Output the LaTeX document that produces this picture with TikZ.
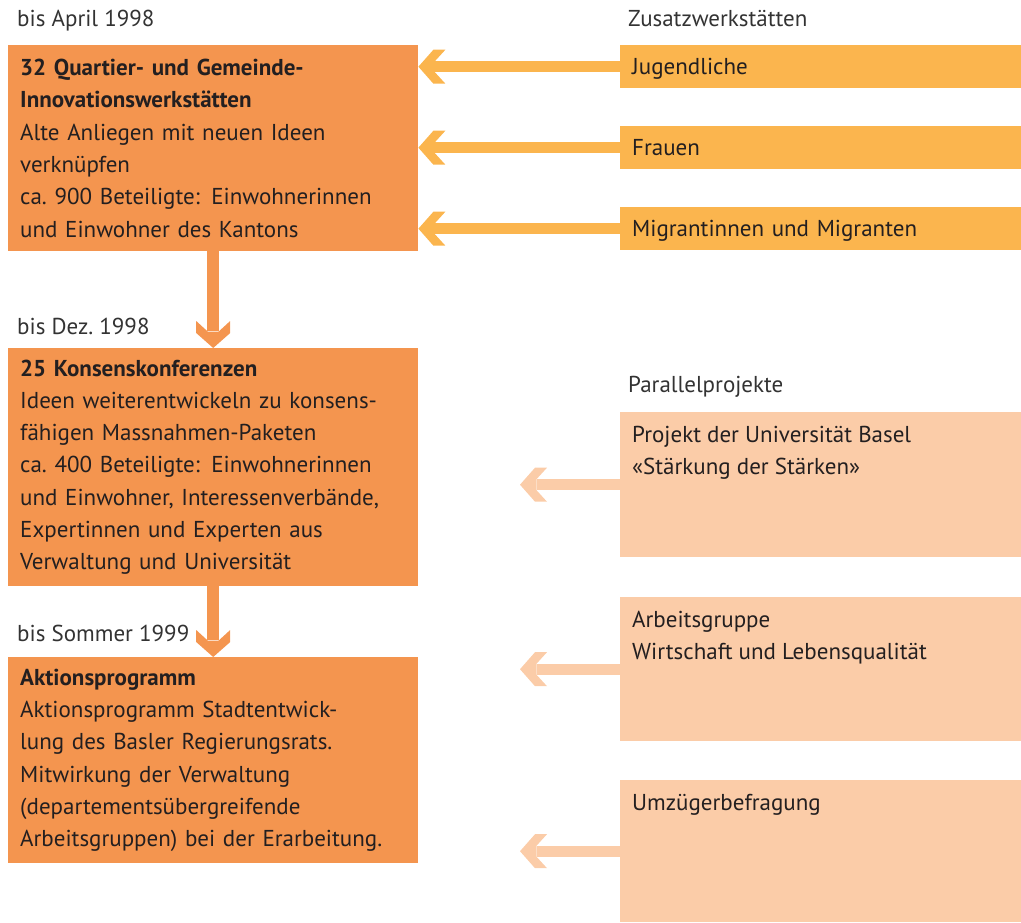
\documentclass[tikz,border=0pt]{standalone}
\usepackage{fontspec}
\setmainfont{PT Sans}
\usetikzlibrary{calc}
\definecolor{dorange}{HTML}{F4954F}
\definecolor{yel}{HTML}{FBB54E}
\definecolor{peach}{HTML}{FBCCA8}
\definecolor{txt}{HTML}{231F20}
\definecolor{lbl}{HTML}{333333}
\pgfdeclarearrow{
  name=Chev,
  setup code={
    \pgfarrowssettipend{0pt}
    \pgfarrowssetbackend{-27pt}
    \pgfarrowssetlineend{-17pt}
    \pgfarrowsupperhullpoint{0pt}{0pt}
    \pgfarrowsupperhullpoint{-27pt}{17pt}
  },
  drawing code={
    \pgfpathmoveto{\pgfpoint{0pt}{0pt}}
    \pgfpathlineto{\pgfpoint{-15pt}{17pt}}
    \pgfpathlineto{\pgfpoint{-27pt}{17pt}}
    \pgfpathlineto{\pgfpoint{-16.5pt}{5.5pt}}
    \pgfpathlineto{\pgfpoint{-16.5pt}{-5.5pt}}
    \pgfpathlineto{\pgfpoint{-27pt}{-17pt}}
    \pgfpathlineto{\pgfpoint{-15pt}{-17pt}}
    \pgfpathclose
    \pgfusepathqfill
  }
}
\tikzset{
  bodyfont/.style={font=\fontsize{23}{32.3}\selectfont},
  lbox/.style={fill=dorange, anchor=north west, minimum width=410pt, text width=386pt,
    inner xsep=12pt, inner ysep=0pt, align=left, text=txt, bodyfont},
  ybox/.style={fill=yel, anchor=north west, minimum width=401pt, minimum height=43pt,
    text width=377pt, inner xsep=12pt, inner ysep=0pt, align=left, text=txt,
    text height=18pt, text depth=3pt, bodyfont},
  pbox/.style={fill=peach, anchor=north west, minimum width=401pt, inner sep=0pt},
  ptext/.style={anchor=north west, inner sep=0pt, align=left, text=txt, bodyfont},
  lab/.style={anchor=base west, inner sep=0pt, text=lbl, bodyfont},
  darrow/.style={color=dorange, line width=12pt, -Chev},
  yarrow/.style={color=yel, line width=11pt, -Chev},
  parrow/.style={color=peach, line width=11pt, -Chev},
}
\begin{document}
\begin{tikzpicture}[x=1pt,y=-1pt]
\useasboundingbox (0,0) rectangle (1021,922);
% labels
\node[lab] (l1) at (17,26) {bis April 1998};
\node[lab] (l2) at (17,334) {bis Dez.\ 1998};
\node[lab] (l3) at (17,641) {bis Sommer 1999};
\node[lab] (l4) at (628,26) {Zusatzwerkstätten};
\node[lab] (l5) at (628,392) {Parallelprojekte};
% left boxes
\node[lbox, minimum height=206pt] (b1) at (8,45) {\textbf{32 Quartier- und Gemeinde-}\\\textbf{Innovationswerkstätten}\\Alte Anliegen mit neuen Ideen\\verknüpfen\\ca.\ 900 Beteiligte: Einwohnerinnen\\und Einwohner des Kantons};
\node[lbox, minimum height=238pt] (b2) at (8,348) {\textbf{25 Konsenskonferenzen}\\Ideen weiterentwickeln zu konsens-\\fähigen Massnahmen-Paketen\\ca.\ 400 Beteiligte: Einwohnerinnen\\und Einwohner, Interessenverbände,\\Expertinnen und Experten aus\\Verwaltung und Universität};
\node[lbox, minimum height=206pt] (b3) at (8,657) {\textbf{Aktionsprogramm}\\Aktionsprogramm Stadtentwick-\\lung des Basler Regierungsrats.\\Mitwirkung der Verwaltung\\(departementsübergreifende\\Arbeitsgruppen) bei der Erarbeitung.};
% yellow boxes
\node[ybox] (y1) at (620,45) {Jugendliche};
\node[ybox] (y2) at (620,126) {Frauen};
\node[ybox] (y3) at (620,207) {Migrantinnen und Migranten};
% peach boxes
\node[pbox, minimum height=145pt] (p1) at (620,412) {};
\node[pbox, minimum height=144pt] (p2) at (620,597) {};
\node[pbox, minimum height=142pt] (p3) at (620,780) {};
\node[ptext] (p1t) at ($(p1.north west)+(12,7.4)$) {\strut Projekt der Universität Basel\\«Stärkung der Stärken»};
\node[ptext] (p2t) at ($(p2.north west)+(12,7.4)$) {\strut Arbeitsgruppe\\Wirtschaft und Lebensqualität};
\node[ptext] (p3t) at ($(p3.north west)+(12,7.4)$) {\strut Umzügerbefragung};
% arrows
\draw[darrow] (b1.south) -- (b2.north);
\draw[darrow] (b2.south) -- (b3.north);
\draw[yarrow] (y1.west) -- (y1.west -| b1.east);
\draw[yarrow] (y2.west) -- (y2.west -| b1.east);
\draw[yarrow] (y3.west) -- (y3.west -| b1.east);
\coordinate (e1) at ($(p1.west)+(-100,0)$);
\coordinate (e2) at ($(p2.west)+(-100,0)$);
\coordinate (e3) at ($(p3.west)+(-100,0)$);
\draw[parrow] (p1.west) -- (e1);
\draw[parrow] (p2.west) -- (e2);
\draw[parrow] (p3.west) -- (e3);
\end{tikzpicture}
\end{document}
